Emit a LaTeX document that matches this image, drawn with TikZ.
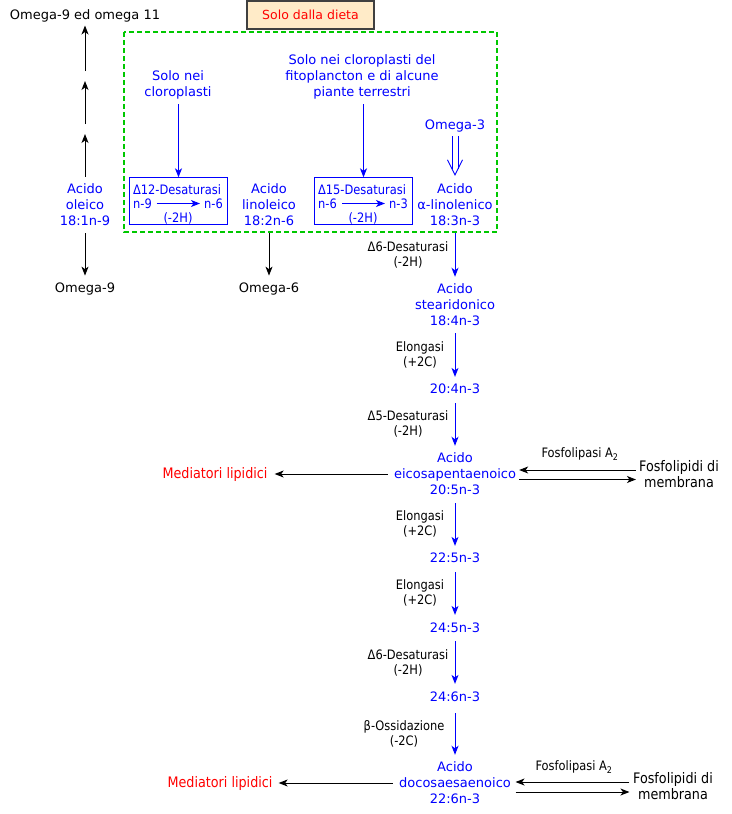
\documentclass[tikz,border=0pt]{standalone}
\usepackage{fontspec}
\setmainfont{DejaVu Sans}
\newfontfamily\narrowf{DejaVu Sans}[FakeStretch=0.88]
\usetikzlibrary{arrows.meta}
\definecolor{dgreen}{RGB}{0,200,0}
\definecolor{pblue}{RGB}{0,0,255}
\definecolor{pred}{RGB}{255,0,0}
\definecolor{dietfill}{RGB}{255,235,200}
\definecolor{dietline}{RGB}{64,64,64}
\newcommand\mfont{\fontsize{13}{16}\selectfont}
\newcommand\lfont{\narrowf\fontsize{13}{14.5}\selectfont}
\newcommand\bfontx{\narrowf\fontsize{14.5}{16}\selectfont}
\begin{document}
\begin{tikzpicture}[x=1pt,y=-1pt,
  mt/.style={font=\mfont, align=center, inner sep=0pt},
  lt/.style={font=\lfont, align=center, inner sep=0pt},
  bt/.style={font=\bfontx, align=center, inner sep=0pt},
  arr/.style={line width=1pt, -{Stealth[length=9pt,width=7pt,inset=2.5pt]}},
  barr/.style={arr, black},
  blarr/.style={arr, pblue},
  ch/.style={blarr, shorten <=7pt, shorten >=7pt},
  bluebox/.style={minimum width=98pt, minimum height=47pt, inner sep=0pt},
  boxline/.style={draw=pblue, line width=1.1pt}
]
\useasboundingbox (0,0) rectangle (731,814);

% top
\node[mt] (om911) at (85,16) {Omega-9 ed omega 11};
\node[draw=dietline, fill=dietfill, line width=1.3pt, minimum width=127pt, minimum height=28pt,
      inner sep=0pt, font=\fontsize{12.5}{15}\selectfont, text=pred] (dieta) at (310.5,15) {Solo dalla dieta};
\draw[dgreen, line width=1.3pt, dash pattern=on 5pt off 3pt] (124,32) rectangle (497,232);

% left column
\node[mt, pblue] (ole) at (85,205) {Acido\\oleico\\18:1n-9};
\node[mt] (om9) at (85,289) {Omega-9};
\coordinate (u1t) at (85,134);
\coordinate (u1b) at (85,124);
\coordinate (u2t) at (85,81);
\coordinate (u2b) at (85,71);
\draw[barr, shorten <=7pt] (ole) -- (u1t);
\draw[barr] (u1b) -- (u2t);
\draw[barr, shorten >=3pt] (u2b) -- (om911);
\draw[barr, shorten <=7pt, shorten >=7pt] (ole) -- (om9);

% chloroplasts
\node[mt, pblue] (solo1) at (178,85) {Solo nei\\cloroplasti};
\node[bluebox] (d12) at (178.5,201) {};
\draw[boxline] (d12.north west) rectangle (d12.south east);
\node[lt, pblue] (d12a) at (177,190) {Δ12-Desaturasi};
\node[lt, pblue] (d12n9) at (142.5,203.5) {n-9};
\node[lt, pblue] (d12n6) at (213.5,203.5) {n-6};
\node[lt, pblue] (d12h) at (178,218) {(-2H)};
\draw[blarr, shorten <=4.5pt, shorten >=4pt] (d12n9) -- (d12n6);
\draw[blarr, shorten <=5pt] (solo1.south -| d12.north) -- (d12.north);

\node[mt, pblue] (lin) at (269,205) {Acido\\linoleico\\18:2n-6};
\node[mt] (om6) at (269,289) {Omega-6};
\draw[barr, shorten <=7pt, shorten >=7pt] (lin) -- (om6);

\node[mt, pblue] (solo2) at (362,77) {Solo nei cloroplasti del\\fitoplancton e di alcune\\piante terrestri};
\node[bluebox] (d15) at (363.5,201) {};
\draw[boxline] (d15.north west) rectangle (d15.south east);
\node[lt, pblue] (d15a) at (362,190) {Δ15-Desaturasi};
\node[lt, pblue] (d15n6) at (327.5,203.5) {n-6};
\node[lt, pblue] (d15n3) at (398.5,203.5) {n-3};
\node[lt, pblue] (d15h) at (363,218) {(-2H)};
\draw[blarr, shorten <=5pt, shorten >=4pt] (d15n6) -- (d15n3);
\draw[blarr, shorten <=5pt] (solo2.south -| d15.north) -- (d15.north);

\node[mt, pblue] (om3) at (455,126) {Omega-3};
\node[mt, pblue] (ala) at (455,205) {Acido\\α-linolenico\\18:3n-3};
% hollow double arrow Omega-3 => alpha-linolenic acid
\draw[pblue, line width=0.9pt] ([xshift=-3pt,yshift=-4pt]om3.south) -- ([xshift=-3pt,yshift=15.2pt]ala.north);
\draw[pblue, line width=0.9pt] ([xshift=3pt,yshift=-4pt]om3.south) -- ([xshift=3pt,yshift=15.2pt]ala.north);
\draw[pblue, line width=0.9pt, line join=miter] ([xshift=-7.5pt,yshift=24pt]ala.north) -- ([yshift=9pt]ala.north) -- ([xshift=7.5pt,yshift=24pt]ala.north);

% main chain
\node[mt, pblue] (sda) at (455,305) {Acido\\stearidonico\\18:4n-3};
\node[mt, pblue] (c204) at (455,389) {20:4n-3};
\node[mt, pblue] (epa) at (455,474) {Acido\\eicosapentaenoico\\20:5n-3};
\node[mt, pblue] (c225) at (455,558) {22:5n-3};
\node[mt, pblue] (c245) at (455,628) {24:5n-3};
\node[mt, pblue] (c246) at (455,697) {24:6n-3};
\node[mt, pblue] (dha) at (455,783) {Acido\\docosaesaenoico\\22:6n-3};

\draw[ch] (ala) -- (sda);
\draw[ch] (sda) -- (c204);
\draw[ch, shorten <=9pt] (c204) -- (epa);
\draw[ch, shorten <=8pt] (epa) -- (c225);
\draw[ch, shorten <=9pt, shorten >=8pt] (c225) -- (c245);
\draw[ch, shorten <=8pt, shorten >=8pt] (c245) -- (c246);
\draw[ch, shorten <=11pt] (c246) -- (dha);

\node[lt] (l1) at (408,255) {Δ6-Desaturasi\\(-2H)};
\node[lt] (l2) at (420,355) {Elongasi\\(+2C)};
\node[lt] (l3) at (408,424) {Δ5-Desaturasi\\(-2H)};
\node[lt] (l4) at (420,524) {Elongasi\\(+2C)};
\node[lt] (l5) at (420,593) {Elongasi\\(+2C)};
\node[lt] (l6) at (408,663) {Δ6-Desaturasi\\(-2H)};
\node[lt] (l7) at (404,734) {β-Ossidazione\\(-2C)};

% side branches EPA
\node[bt, pred] (med1) at (215,474) {Mediatori lipidici};
\draw[barr, shorten <=6pt, shorten >=7pt] (epa) -- (med1);
\node[lt] (fa1) at (580,454) {Fosfolipasi A\textsubscript{2}};
\node[bt] (fos1) at (679,474) {Fosfolipidi di\\membrana};
\draw[barr, shorten <=3pt, shorten >=3pt] ([yshift=4pt]fos1.west) -- ([yshift=4pt]fos1.west -| epa.east);
\draw[barr, shorten <=3pt, shorten >=3pt] ([yshift=-5.5pt]fos1.west -| epa.east) -- ([yshift=-5.5pt]fos1.west);

% side branches DHA
\node[bt, pred] (med2) at (220,783) {Mediatori lipidici};
\draw[barr, shorten <=6pt, shorten >=6pt] (dha) -- (med2);
\node[lt] (fa2) at (574,767) {Fosfolipasi A\textsubscript{2}};
\node[bt] (fos2) at (673,786.5) {Fosfolipidi di\\membrana};
\draw[barr, shorten <=3.5pt, shorten >=4.5pt] ([yshift=4.5pt]fos2.west) -- ([yshift=4.5pt]fos2.west -| dha.east);
\draw[barr, shorten <=4.5pt, shorten >=3.5pt] ([yshift=-5.5pt]fos2.west -| dha.east) -- ([yshift=-5.5pt]fos2.west);
\end{tikzpicture}
\end{document}
